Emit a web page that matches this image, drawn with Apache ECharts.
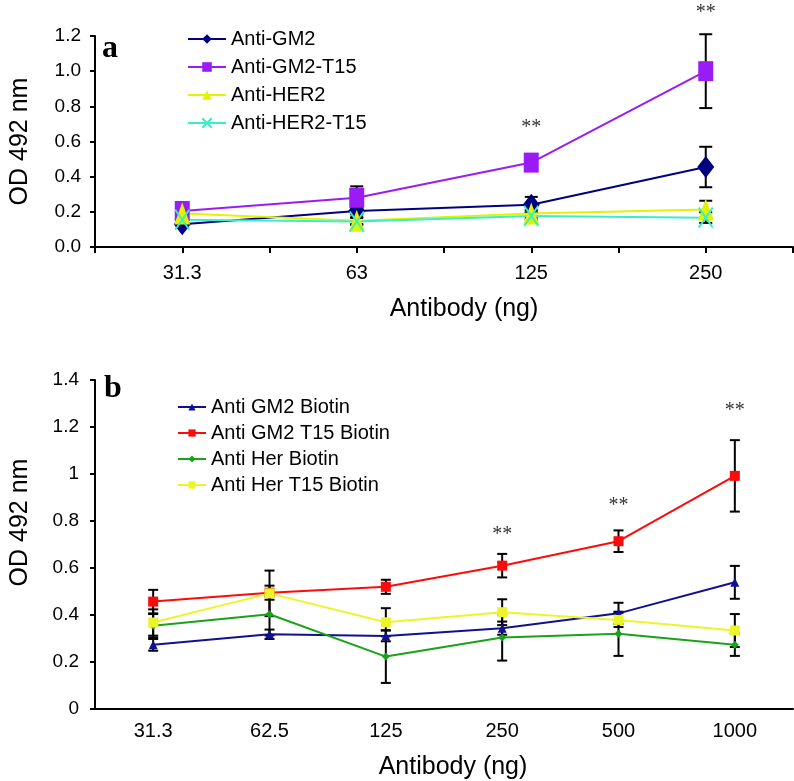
<!DOCTYPE html>
<html>
<head>
<meta charset="utf-8">
<script src="https://cdn.jsdelivr.net/npm/echarts@6/dist/echarts.min.js"></script>
<style>
  html, body { margin: 0; padding: 0; background: #fff; }
  #main { width: 794px; height: 781px; }
</style>
</head>
<body>
<div id="main"></div>
<script>
// panel a
const doseA = ['31.3', '63', '125', '250']
const gm2A = [0.13, 0.205, 0.24, 0.455]
const gm2ErrA = [0.02, 0.02, 0.045, 0.115]
const gm2T15A = [0.205, 0.28, 0.48, 1.0]
const gm2T15ErrA = [0.03, 0.065, 0.03, 0.21]
const her2A = [0.19, 0.15, 0.19, 0.213]
const her2ErrA = [0.03, 0.02, 0.02, 0.05]
const her2T15A = [0.155, 0.145, 0.177, 0.167]
const her2T15ErrA = [0.02, 0.02, 0.02, 0.03]
const sigA = [['125', 0.68], ['250', 1.33]]

// panel b
const doseB = ['31.3', '62.5', '125', '250', '500', '1000']
const gm2B = [0.273, 0.318, 0.311, 0.344, 0.407, 0.539]
const gm2ErrB = [0.025, 0.02, 0.023, 0.028, 0.045, 0.07]
const gm2T15B = [0.457, 0.495, 0.52, 0.61, 0.714, 0.992]
const gm2T15ErrB = [0.05, 0.03, 0.03, 0.05, 0.046, 0.152]
const herB = [0.354, 0.403, 0.223, 0.304, 0.32, 0.273]
const herErrB = [0.05, 0.09, 0.112, 0.098, 0.094, 0.047]
const herT15B = [0.368, 0.492, 0.369, 0.412, 0.379, 0.334]
const herT15ErrB = [0.056, 0.097, 0.06, 0.055, 0.03, 0.07]
const sigB = [['250', 0.74], ['500', 0.863], ['1000', 1.27]]

const font = 'Liberation Sans, Arial, sans-serif'
const xSymbol = 'path://M0,0L10,10M10,0L0,10'

function lineSeries(name, xi, yi, data, color, symbol, size, width) {
  return {
    name: name,
    type: 'line',
    xAxisIndex: xi,
    yAxisIndex: yi,
    data: data,
    symbol: symbol,
    symbolSize: size,
    showAllSymbol: true,
    lineStyle: { color: color, width: width },
    itemStyle: { color: color, borderColor: color, borderWidth: symbol === xSymbol ? 2 : 0 },
    z: 3
  }
}

function errorBars(xi, yi, vals, errs, cap) {
  return {
    type: 'custom',
    xAxisIndex: xi,
    yAxisIndex: yi,
    silent: true,
    z: 2,
    data: vals.map((v, i) => [i, v - errs[i], v + errs[i]]),
    renderItem: function(params, api) {
      const lo = api.coord([api.value(0), api.value(1)])
      const hi = api.coord([api.value(0), api.value(2)])
      const st = { stroke: '#000', lineWidth: 2 }
      return {
        type: 'group',
        children: [
          { type: 'line', shape: { x1: lo[0], y1: lo[1], x2: hi[0], y2: hi[1] }, style: st },
          { type: 'line', shape: { x1: lo[0] - cap / 2, y1: lo[1], x2: lo[0] + cap / 2, y2: lo[1] }, style: st },
          { type: 'line', shape: { x1: hi[0] - cap / 2, y1: hi[1], x2: hi[0] + cap / 2, y2: hi[1] }, style: st }
        ]
      }
    }
  }
}

function stars(xi, yi, data) {
  return {
    type: 'custom',
    xAxisIndex: xi,
    yAxisIndex: yi,
    silent: true,
    clip: false,
    data: data,
    renderItem: function(params, api) {
      const p = api.coord([api.value(0), api.value(1)])
      return {
        type: 'text',
        x: p[0],
        y: p[1],
        style: { text: '**', fill: '#333', font: '20px Liberation Serif, serif', align: 'center', verticalAlign: 'middle' }
      }
    }
  }
}

const axisLineStyle = { color: '#000', width: 2 }

const chart = echarts.init(document.getElementById('main'))
chart.setOption({
  backgroundColor: '#fff',
  animation: false,
  textStyle: { fontFamily: font },
  title: [
    { text: 'a', left: 97, top: 28, textStyle: { fontFamily: 'Liberation Serif, serif', fontWeight: 'bold', fontSize: 32, color: '#000' } },
    { text: 'b', left: 99, top: 368, textStyle: { fontFamily: 'Liberation Serif, serif', fontWeight: 'bold', fontSize: 32, color: '#000' } }
  ],
  legend: [
    {
      data: ['Anti-GM2', 'Anti-GM2-T15', 'Anti-HER2', 'Anti-HER2-T15'],
      orient: 'vertical',
      left: 182,
      top: 24,
      itemWidth: 38,
      itemHeight: 12,
      itemGap: 8,
      textStyle: { fontSize: 20, color: '#000', fontFamily: font }
    },
    {
      data: ['Anti GM2 Biotin', 'Anti GM2 T15 Biotin', 'Anti Her Biotin', 'Anti Her T15 Biotin'],
      orient: 'vertical',
      left: 172,
      top: 392,
      itemWidth: 28,
      itemHeight: 9,
      itemGap: 6,
      textStyle: { fontSize: 20, color: '#000', fontFamily: font }
    }
  ],
  grid: [
    { left: 86, top: 36, width: 707, height: 211 },
    { left: 90, top: 380, width: 703, height: 329 }
  ],
  xAxis: [
    {
      type: 'category',
      gridIndex: 0,
      data: doseA,
      name: 'Antibody (ng)',
      nameLocation: 'middle',
      nameGap: 50,
      nameTextStyle: { fontSize: 25, color: '#000', padding: [0, 0, 0, 40] },
      axisLine: { lineStyle: axisLineStyle },
      axisTick: { length: 8, lineStyle: { color: '#000', width: 2 } },
      axisLabel: { fontSize: 20, color: '#000', margin: 16 }
    },
    {
      type: 'category',
      gridIndex: 1,
      data: doseB,
      name: 'Antibody (ng)',
      nameLocation: 'middle',
      nameGap: 46,
      nameTextStyle: { fontSize: 25, color: '#000', padding: [0, 0, 0, 18] },
      axisLine: { lineStyle: axisLineStyle },
      axisTick: { length: 5, lineStyle: { color: '#000', width: 2 } },
      axisLabel: { fontSize: 20, color: '#000', margin: 12 }
    },
    {
      // extra mid ticks for panel a
      type: 'category',
      gridIndex: 0,
      position: 'bottom',
      data: ['', '', '', '', '', '', '', ''],
      axisLine: { show: false },
      axisTick: { show: true, interval: 0, length: 6, lineStyle: { color: '#000', width: 2 } },
      axisLabel: { show: false }
    }
  ],
  yAxis: [
    {
      type: 'value',
      gridIndex: 0,
      min: 0,
      max: 1.2,
      interval: 0.2,
      name: 'OD 492 nm',
      nameLocation: 'middle',
      nameGap: 62,
      nameTextStyle: { fontSize: 25, color: '#000' },
      axisLine: { show: true, lineStyle: axisLineStyle },
      axisTick: { show: true, length: 5, lineStyle: { color: '#000', width: 2 } },
      axisLabel: { fontSize: 19, color: '#000', margin: 14, formatter: v => v.toFixed(1) },
      splitLine: { show: false }
    },
    {
      type: 'value',
      gridIndex: 1,
      min: 0,
      max: 1.4,
      interval: 0.2,
      name: 'OD 492 nm',
      nameLocation: 'middle',
      nameGap: 62,
      nameTextStyle: { fontSize: 25, color: '#000', padding: [0, 0, 0, 44] },
      axisLine: { show: true, lineStyle: axisLineStyle },
      axisTick: { show: true, length: 5, lineStyle: { color: '#000', width: 2 } },
      axisLabel: { fontSize: 19, color: '#000', margin: 16 },
      splitLine: { show: false }
    }
  ],
  series: [
    errorBars(0, 0, gm2A, gm2ErrA, 13),
    errorBars(0, 0, gm2T15A, gm2T15ErrA, 13),
    errorBars(0, 0, her2A, her2ErrA, 13),
    errorBars(0, 0, her2T15A, her2T15ErrA, 13),
    lineSeries('Anti-GM2', 0, 0, gm2A, '#000080', 'diamond', [17, 22], 2),
    lineSeries('Anti-GM2-T15', 0, 0, gm2T15A, '#9a1cf5', 'rect', [15, 20], 2),
    lineSeries('Anti-HER2', 0, 0, her2A, '#e2f200', 'triangle', [16, 22], 2),
    lineSeries('Anti-HER2-T15', 0, 0, her2T15A, '#38f0c4', xSymbol, [14, 20], 2),
    stars(0, 0, sigA),

    errorBars(1, 1, gm2B, gm2ErrB, 10),
    errorBars(1, 1, gm2T15B, gm2T15ErrB, 10),
    errorBars(1, 1, herB, herErrB, 10),
    errorBars(1, 1, herT15B, herT15ErrB, 10),
    lineSeries('Anti GM2 Biotin', 1, 1, gm2B, '#101090', 'triangle', 9, 2),
    lineSeries('Anti GM2 T15 Biotin', 1, 1, gm2T15B, '#ff0a0a', 'rect', 10, 2),
    lineSeries('Anti Her Biotin', 1, 1, herB, '#1aa31a', 'diamond', 8, 2),
    lineSeries('Anti Her T15 Biotin', 1, 1, herT15B, '#ecf52a', 'rect', 10, 2),
    stars(1, 1, sigB)
  ]
})
</script>
</body>
</html>
